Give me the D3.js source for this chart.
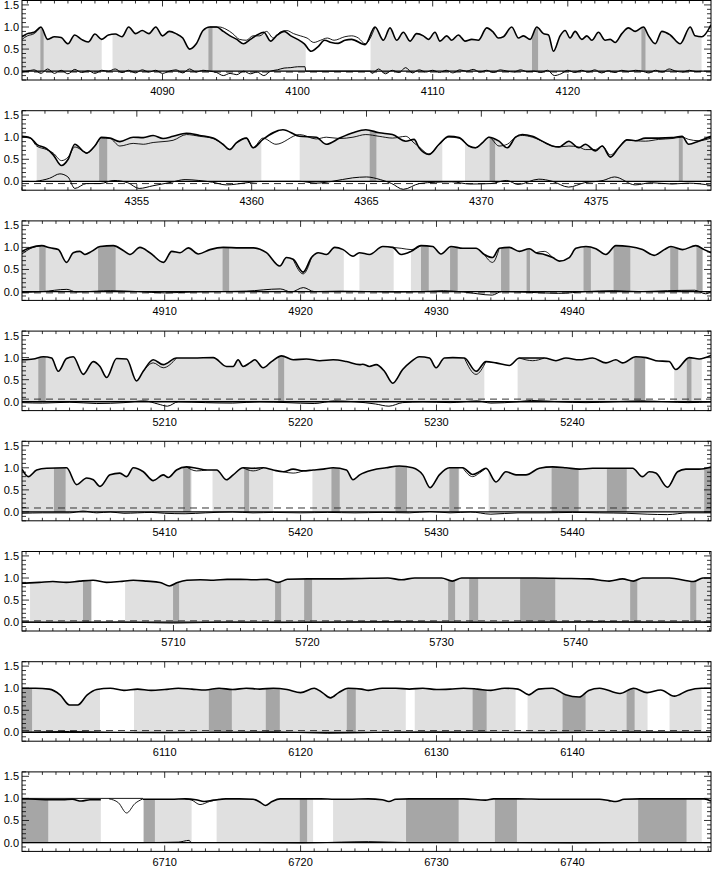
<!DOCTYPE html>
<html><head><meta charset="utf-8">
<script src="https://cdn.jsdelivr.net/npm/d3@7"></script>
<style>body{margin:0;background:#fff}svg{display:block}text{font-family:"Liberation Sans",Arial,sans-serif;font-size:11px;fill:#000}</style>
</head><body><svg id="c" width="713" height="869"></svg>
<script>
// ---------------- DATA ----------------
const yTickValues=[0,0.5,1.0,1.5];

const p1Range=[4079.6,4130.6];
const p1Ticks=[4090,4100,4110,4120];
const p1Main=[[4079.6,0.78],[4080,0.85],[4080.5,0.88],[4081,1.0],[4081.5,0.72],[4082,0.78],[4082.5,0.76],[4083,0.62],[4083.5,0.82],[4084,0.72],[4084.5,0.66],[4085,0.84],[4085.5,0.72],[4086,0.82],[4086.5,0.84],[4087,0.78],[4087.5,1.0],[4088,0.85],[4088.5,0.92],[4089,0.85],[4089.5,1.0],[4090,0.8],[4090.5,0.9],[4091,0.85],[4091.5,0.75],[4092,0.5],[4092.5,0.62],[4093,0.92],[4093.5,1.0],[4094,1.0],[4094.5,0.9],[4095,0.8],[4095.5,0.72],[4096,0.62],[4096.5,0.72],[4097,0.82],[4097.5,0.88],[4098,0.68],[4098.5,0.82],[4099,0.9],[4099.5,0.8],[4100,0.72],[4100.5,0.62],[4101,0.45],[4101.5,0.55],[4102,0.7],[4102.5,0.65],[4103,0.63],[4103.5,0.7],[4104,0.72],[4105,0.6],[4105.73,1.0],[4106.35,0.7],[4106.84,0.98],[4107.33,0.7],[4107.83,0.88],[4108.32,0.68],[4108.81,0.85],[4109.31,0.8],[4109.68,0.72],[4110.17,0.88],[4110.54,0.68],[4111.04,0.8],[4111.41,0.7],[4111.9,0.82],[4112.4,0.68],[4112.89,0.72],[4113.38,0.7],[4114.0,0.98],[4114.49,0.88],[4114.86,0.75],[4115.23,0.78],[4115.85,1.0],[4116.35,0.75],[4116.72,0.8],[4117.21,0.72],[4117.7,1.0],[4118.2,0.85],[4118.57,0.82],[4118.94,0.45],[4119.43,0.8],[4119.8,0.92],[4120.17,0.75],[4120.54,0.9],[4121.04,0.72],[4121.41,0.8],[4121.78,0.7],[4122.27,0.88],[4122.77,0.7],[4123.14,0.72],[4123.5,0.65],[4124.0,0.85],[4124.49,0.98],[4124.99,0.9],[4125.6,1.0],[4125.98,0.8],[4126.47,0.62],[4126.96,0.9],[4127.58,0.82],[4128.32,0.62],[4129.06,1.0],[4129.43,0.8],[4129.93,0.78],[4130.6,1.05]];
const p1Thin=[[4079.6,0.72],[4080,0.8],[4080.5,0.85],[4081,1.0],null,[4093.5,1.0],[4094.2,1.0],[4094.7,0.95],[4095.2,0.85],[4095.7,0.72],[4096.2,0.7],[4096.7,0.8],[4097.2,0.8],[4097.7,0.9],[4098.2,0.75],[4098.7,0.88],[4099.2,0.92],[4099.7,0.85],[4100.2,0.8],[4100.7,0.75],[4101.2,0.65],[4101.7,0.7],[4102.2,0.75],[4102.7,0.7],[4103.5,0.78],[4104,0.8],[4104.5,0.75],[4105,0.62],[4105.73,1.0]];
const p1Res=[[4079.6,-0.02],[4080,0.0],[4080.5,0.03],[4081,-0.05],[4081.5,0.05],[4082,-0.05],[4082.5,0.02],[4083,-0.06],[4083.5,0.04],[4084,-0.03],[4084.5,0.01],[4085,-0.05],[4085.5,0.02],[4086,0.0],[4086.5,0.05],[4087,-0.03],[4087.5,0.02],[4088,-0.04],[4088.5,0.03],[4089,-0.02],[4089.5,0.02],[4090,-0.05],[4090.5,0.0],[4091,0.03],[4091.5,-0.04],[4092,0.05],[4092.5,-0.02],[4093,0.02],[4093.5,0.0],[4094,-0.03],[4094.5,-0.1],[4095,-0.05],[4095.5,-0.08],[4096,0.0],[4096.5,-0.06],[4097,-0.02],[4097.5,-0.1],[4098,0.0],[4098.5,0.03],[4099,0.07],[4099.5,0.08],[4100,0.1],[4100.55,0.1],[4100.6,0.0],[4105.4,0.0],[4105.5,-0.05],[4106,0.05],[4106.5,-0.06],[4107,0.02],[4107.5,-0.03],[4108,0.08],[4108.5,-0.04],[4109,0.03],[4109.5,-0.02],[4110,0.02],[4110.5,-0.03],[4111,0.02],[4111.5,-0.04],[4112,0.03],[4112.5,0.0],[4113,0.04],[4113.5,-0.02],[4114,0.02],[4114.5,-0.03],[4115,0.03],[4115.5,0.0],[4116,-0.02],[4116.5,0.03],[4117,-0.01],[4117.5,0.0],[4118,-0.03],[4118.5,0.02],[4119,-0.1],[4119.5,-0.06],[4120,0.02],[4120.5,-0.03],[4121,0.02],[4121.5,-0.02],[4122,0.03],[4122.5,-0.04],[4123,0.01],[4123.5,-0.03],[4124,0.02],[4124.5,-0.01],[4125,0.02],[4125.5,0.0],[4126,-0.04],[4126.5,0.02],[4127,-0.02],[4127.5,0.05],[4128,0.0],[4128.5,-0.02],[4129,0.02],[4129.5,-0.01],[4129.9,0.0]];
const p1Light=[[4079.6,4085.5],[4086.3,4100.6],[4105.4,4129.9]];
const p1Dark=[[4080.96,4081.2],[4093.4,4093.7],[4117.35,4117.8],[4125.45,4125.75]];
const p1Dash=-0.02;

const p2Range=[4350,4380];
const p2Ticks=[4355,4360,4365,4370,4375];
const p2Main=[[4350.0,1.02],[4350.35,0.99],[4350.64,0.84],[4351.07,0.74],[4351.36,0.6],[4351.72,0.36],[4352.01,0.5],[4352.3,0.84],[4352.67,0.68],[4352.81,0.64],[4353.17,0.8],[4353.46,1.0],[4353.83,0.98],[4354.26,0.9],[4354.84,1.0],[4355.28,0.99],[4355.71,1.04],[4356.14,0.97],[4356.58,1.02],[4357.16,1.09],[4357.74,1.04],[4358.32,0.98],[4358.75,0.84],[4359.04,0.72],[4359.33,0.87],[4359.77,0.98],[4360.06,0.76],[4360.49,0.95],[4361.36,1.17],[4362.09,1.02],[4362.81,1.0],[4363.25,0.84],[4363.83,0.98],[4364.41,1.1],[4364.97,1.17],[4365.55,1.1],[4366.13,1.06],[4366.71,0.91],[4367.07,0.95],[4367.29,0.76],[4367.72,0.61],[4368.16,0.84],[4368.59,1.02],[4369.03,0.99],[4369.46,0.8],[4369.75,0.76],[4370.04,0.87],[4370.33,1.0],[4370.77,0.91],[4371.13,0.76],[4371.49,1.0],[4371.78,1.06],[4372.22,1.02],[4372.8,0.87],[4373.09,0.8],[4373.38,0.78],[4373.81,0.91],[4374.24,0.76],[4374.53,0.84],[4374.97,0.69],[4375.26,0.8],[4375.62,0.55],[4375.98,0.76],[4376.35,0.94],[4376.71,0.92],[4377.14,0.98],[4377.72,0.98],[4378.3,0.99],[4378.74,1.02],[4379.03,0.84],[4379.46,0.91],[4380,1.02]];
const p2Thin=[[4350.0,1.0],[4350.35,0.98],[4350.64,0.8],[4351.07,0.72],[4351.36,0.64],[4351.72,0.47],[4352.01,0.55],[4352.3,0.78],[4352.67,0.68],[4352.81,0.64],[4353.17,0.8],[4353.46,0.98],[4353.83,0.97],[4354.26,0.8],[4354.84,0.86],[4355.28,0.84],[4355.71,0.88],[4356.14,0.9],[4356.58,0.93],[4357.16,1.06],[4357.74,1.02],[4358.32,0.97],[4358.75,0.84],[4359.04,0.72],[4359.33,0.87],[4359.77,0.98],[4360.06,0.76],[4360.49,0.98],[4361.06,0.84],[4362.09,1.06],[4362.81,0.96],[4363.25,1.0],[4363.83,0.97],[4364.41,1.0],[4364.97,1.06],[4365.55,1.02],[4366.13,0.98],[4366.71,1.02],[4367.07,0.87],[4367.29,0.78],[4367.72,0.62],[4368.16,0.84],[4368.59,1.0],[4369.03,0.98],[4369.46,0.8],[4369.75,0.76],[4370.04,0.87],[4370.33,1.0],[4370.77,0.8],[4371.13,0.84],[4371.49,1.0],[4371.78,1.04],[4372.22,1.0],[4372.8,0.87],[4373.09,0.8],[4373.38,0.78],[4373.81,0.8],[4374.24,0.78],[4374.53,0.72],[4374.97,0.72],[4375.26,0.8],[4375.62,0.6],[4375.98,0.76],[4376.35,0.94],[4376.71,0.92],[4377.14,0.91],[4377.72,0.95],[4378.3,0.97],[4378.74,1.0],[4379.03,0.95],[4379.46,0.92],[4380,0.98]];
const p2Res=[[4350.6,0.0],[4351.2,0.07],[4351.65,0.17],[4352.0,0.1],[4352.3,-0.16],[4352.8,-0.05],[4353.4,-0.05],[4354.0,0.02],[4354.6,-0.03],[4355.1,-0.16],[4355.7,-0.1],[4356.5,-0.02],[4357.1,0.04],[4357.7,0.02],[4358.3,-0.02],[4358.9,-0.08],[4359.8,-0.03],[4360.4,0.0],[4362.1,0.0],[4362.8,-0.04],[4363.5,0.0],[4364.4,0.08],[4365.0,0.1],[4365.6,0.04],[4366.1,-0.05],[4366.6,-0.18],[4367.3,-0.05],[4368.0,-0.02],[4368.7,-0.01],[4369.5,-0.06],[4370.4,-0.05],[4371.1,0.02],[4371.6,-0.07],[4372.5,0.05],[4373.1,0.0],[4373.8,-0.13],[4374.5,-0.03],[4375.3,0.02],[4375.8,0.1],[4376.7,-0.08],[4377.4,-0.03],[4378.3,-0.06],[4379.0,-0.04],[4380,-0.09]];
const p2Light=[[4350.64,4360.42],[4362.09,4368.3],[4369.29,4380]];
const p2Dark=[[4353.36,4353.71],[4365.14,4365.43],[4370.36,4370.6],[4378.6,4378.77]];
const p2Dash=-0.05;

const p3Range=[4899.5,4950.2];
const p3Ticks=[4910,4920,4930,4940];
const p3Main=[[4899.5,0.91],[4900.09,0.99],[4900.95,1.04],[4901.56,0.99],[4902.17,0.95],[4902.78,0.66],[4903.27,0.88],[4903.76,0.91],[4904.13,0.84],[4904.62,0.91],[4905.24,1.02],[4906.22,1.04],[4906.95,0.93],[4907.44,0.84],[4908.18,1.0],[4908.91,0.88],[4909.91,0.66],[4910.52,0.91],[4911.13,0.88],[4911.74,0.99],[4912.47,0.85],[4913.33,0.95],[4914.31,1.0],[4915.53,0.99],[4916.51,0.99],[4917.49,0.88],[4918.47,0.58],[4918.96,0.77],[4919.45,0.73],[4920.19,0.44],[4920.8,0.77],[4921.29,0.88],[4921.9,0.84],[4922.51,1.0],[4923.13,0.95],[4923.86,0.8],[4924.33,0.88],[4925.07,0.84],[4926.05,1.02],[4926.78,1.0],[4927.4,0.84],[4928.13,0.91],[4928.86,1.04],[4929.72,1.02],[4930.33,0.85],[4931.07,1.02],[4931.93,0.98],[4932.91,0.98],[4933.52,0.84],[4934.13,0.77],[4934.62,0.98],[4935.36,1.0],[4936.1,0.91],[4936.83,0.97],[4937.32,0.88],[4937.93,0.84],[4938.55,0.77],[4939.04,0.69],[4939.77,0.77],[4940.26,0.98],[4941.0,1.02],[4941.73,0.97],[4942.47,0.84],[4943.2,1.04],[4944.18,1.02],[4945.16,0.95],[4946.02,0.82],[4946.76,0.95],[4947.25,1.02],[4948.1,0.95],[4949.08,1.04],[4949.7,0.95],[4950.2,0.88]];
const p3Thin=[[4899.5,0.85],[4900.09,0.97],[4900.95,1.04],null,[4919.45,0.73],[4920.19,0.4],[4920.8,0.77],null,[4926.78,1.0],[4927.4,0.98],[4928.13,0.95],[4928.86,1.04],null,[4933.52,0.84],[4934.13,0.66],[4934.62,0.98],null,[4937.32,0.88],[4937.93,0.91],[4938.55,0.77]];
const p3Res=[[4899.5,-0.02],[4901,0.0],[4902.8,0.05],[4903.5,-0.01],[4905,0.01],[4906,0.02],[4908,0.0],[4910,-0.03],[4912,-0.01],[4914,0.0],[4916,0.01],[4918.5,0.06],[4919.3,-0.01],[4920.2,0.09],[4921,0.0],[4923,0.01],[4925,0.0],[4927,-0.01],[4929,0.0],[4930.5,0.02],[4932,-0.01],[4934.1,-0.08],[4934.8,0.0],[4937,-0.02],[4939,-0.04],[4941,0.0],[4943,0.02],[4945,0.0],[4947,0.02],[4949,0.03],[4949.8,-0.05],[4950.2,0.0]];
const p3Light=[[4899.5,4923.18],[4924.33,4926.85],[4928.12,4949.6]];
const p3Dark=[[4900.77,4901.24],[4905.1,4906.39],[4914.26,4914.74],[4928.86,4929.43],[4931.0,4931.56],[4934.75,4935.37],[4936.63,4936.88],[4940.82,4941.36],[4943.03,4944.26],[4947.2,4947.79],[4949.13,4949.57]];
const p3Dash=-0.03;

const p4Range=[5199.5,5250.2];
const p4Ticks=[5210,5220,5230,5240];
const p4Main=[[5199.5,0.95],[5200.33,0.97],[5201.07,1.02],[5201.68,0.99],[5202.17,0.69],[5202.78,0.98],[5203.27,1.02],[5204.01,0.62],[5204.74,0.91],[5205.24,0.8],[5205.73,0.55],[5206.46,0.98],[5207.2,0.97],[5207.93,0.47],[5208.42,0.69],[5209.16,0.95],[5209.89,0.84],[5210.87,0.99],[5212.1,0.99],[5213.57,1.0],[5214.55,0.8],[5215.04,0.8],[5215.4,0.95],[5215.77,0.8],[5216.26,0.88],[5216.63,0.95],[5217.24,0.77],[5217.86,0.91],[5218.6,1.04],[5219.45,0.95],[5220.43,0.97],[5221.41,0.93],[5222.39,0.95],[5223.37,0.91],[5224.35,0.84],[5224.57,0.85],[5225.07,0.8],[5225.56,0.84],[5226.17,0.69],[5226.78,0.42],[5227.51,0.73],[5228.13,0.91],[5228.74,1.02],[5229.48,0.99],[5229.97,0.77],[5230.58,0.99],[5231.2,1.0],[5232.05,0.99],[5232.91,0.69],[5233.64,0.91],[5234.38,0.88],[5235.36,0.82],[5236.1,0.99],[5237.08,0.99],[5237.93,0.99],[5238.79,0.93],[5239.53,0.99],[5240.5,0.95],[5241.49,0.99],[5242.47,0.88],[5243.2,0.95],[5243.69,0.88],[5244.67,1.02],[5245.41,1.0],[5246.14,0.93],[5247.12,0.91],[5247.61,0.73],[5248.6,1.0],[5249.33,0.97],[5250.2,1.05]];
const p4Thin=[[5208.42,0.69],[5209.16,0.88],[5209.89,0.77],[5210.87,0.99],null,[5232.05,0.99],[5232.91,0.62],[5233.64,0.91],null,[5236.1,0.99],[5237.08,0.93],[5237.93,0.99]];
const p4Res=[[5199.5,-0.02],[5201,-0.03],[5203,-0.01],[5205,-0.04],[5207,-0.02],[5208.5,0.02],[5209.5,-0.05],[5210.2,-0.1],[5211,0.0],[5213,-0.02],[5215,-0.03],[5217,0.0],[5219,-0.02],[5221,-0.04],[5222.5,0.02],[5224,0.0],[5225.5,-0.05],[5226.5,-0.1],[5227.5,-0.02],[5229,0.0],[5231,-0.02],[5233,0.02],[5234,-0.03],[5236,0.0],[5237,0.03],[5239,0.0],[5241,-0.02],[5243,0.0],[5245,0.02],[5247,0.0],[5248.5,-0.02],[5250.2,0.0]];
const p4Light=[[5199.5,5233.52],[5235.97,5244.55],[5247.49,5249.52]];
const p4Dark=[[5200.7,5201.24],[5218.35,5218.79],[5244.55,5245.36],[5248.42,5248.76]];
const p4Dash=0.06;

const p5Range=[5399.5,5450.2];
const p5Ticks=[5410,5420,5430,5440];
const p5Main=[[5399.5,0.97],[5399.97,0.8],[5400.58,0.95],[5401.32,0.99],[5402.78,1.0],[5403.52,0.62],[5404.26,0.77],[5404.75,0.73],[5405.24,0.58],[5405.98,0.84],[5406.7,0.88],[5407.2,0.8],[5407.69,1.0],[5408.43,0.91],[5409.16,0.71],[5409.89,0.84],[5410.26,0.78],[5410.87,0.95],[5411.6,1.02],[5412.34,0.99],[5413.08,0.95],[5413.82,0.95],[5414.55,0.73],[5415.04,0.84],[5415.77,1.0],[5416.51,0.99],[5417.25,1.0],[5417.98,0.95],[5418.72,0.91],[5419.45,0.97],[5420.19,0.93],[5420.92,0.95],[5421.66,0.97],[5422.39,1.0],[5423.37,0.95],[5423.86,0.73],[5424.35,0.84],[5425.31,0.95],[5426.29,1.0],[5427.27,1.04],[5428.25,1.0],[5428.99,0.84],[5429.53,0.55],[5430.21,0.84],[5430.95,1.0],[5431.93,1.0],[5432.66,0.85],[5433.15,0.91],[5433.64,0.99],[5434.38,0.68],[5435.11,0.91],[5435.85,0.84],[5436.58,0.84],[5437.57,0.99],[5438.55,1.02],[5439.53,1.0],[5440.5,0.97],[5441.49,0.99],[5442.47,0.99],[5443.45,0.99],[5444.43,0.99],[5445.16,0.8],[5445.65,0.91],[5446.14,0.88],[5447.0,0.56],[5447.74,0.91],[5448.35,0.97],[5449.33,0.97],[5450.2,1.02]];
const p5Thin=[[5411.6,1.02],[5412.34,0.93],[5413.08,0.95],null,[5415.77,1.0],[5416.51,0.93],[5417.25,1.0],null,[5418.72,0.91],[5419.45,0.88],[5420.19,0.93],null,[5431.93,1.0],[5432.66,0.8],[5433.15,0.88],[5433.64,0.99]];
const p5Res=[[5399.5,-0.03],[5401,-0.02],[5403,-0.02],[5404,0.02],[5405,-0.02],[5406,0.0],[5407,-0.03],[5408,-0.02],[5409,-0.01],[5410,-0.03],[5411.5,-0.04],[5413,-0.02],[5415,0.0],[5416.5,-0.02],[5418,-0.01],[5420,-0.02],[5422,-0.01],[5424,-0.02],[5426,-0.01],[5428,-0.02],[5429.5,0.01],[5431,-0.02],[5432.5,0.0],[5434,-0.05],[5436,-0.02],[5438,-0.02],[5440,-0.01],[5442,-0.02],[5444,-0.03],[5445.5,-0.05],[5447,-0.06],[5448.5,-0.02],[5450.2,-0.02]];
const p5Light=[[5399.5,5411.98],[5413.52,5417.98],[5420.87,5431.68],[5433.84,5450.2]];
const p5Dark=[[5401.85,5402.71],[5411.36,5411.9],[5415.85,5416.21],[5422.27,5422.88],[5426.98,5427.83],[5430.95,5431.63],[5438.47,5440.46],[5442.54,5444.0],[5449.7,5450.2]];
const p5Dash=0.09;

const p6Range=[5698.7,5750.1];
const p6Ticks=[5710,5720,5730,5740];
const p6Main=[[5698.7,0.88],[5700,0.9],[5701,0.92],[5702,0.9],[5703,0.93],[5704,0.95],[5705,0.9],[5706,0.92],[5707,0.95],[5708,0.93],[5709,0.9],[5709.7,0.82],[5710.3,0.9],[5711,0.95],[5712,0.96],[5713,0.95],[5714,0.97],[5715,0.97],[5716,0.96],[5717,0.97],[5717.8,0.9],[5718.5,0.97],[5720,0.98],[5722,0.98],[5724,0.99],[5726,1.0],[5727,0.96],[5728,1.0],[5730,1.0],[5730.8,0.93],[5731.5,1.0],[5733,1.0],[5735,1.0],[5737,1.0],[5739,0.99],[5741,0.98],[5742.5,0.93],[5743.5,0.98],[5744.3,0.93],[5745,1.0],[5747,1.0],[5748.8,0.92],[5749.5,1.0],[5750.1,1.0]];
const p6Thin=[];
const p6Res=[[5698.7,0.0],[5702,-0.01],[5706,0.0],[5710,-0.02],[5714,0.0],[5718,-0.01],[5722,0.0],[5726,0.01],[5730,0.0],[5734,-0.01],[5738,0.0],[5742,0.01],[5746,0.0],[5750.1,0.0]];
const p6Light=[[5699.3,5703.92],[5706.39,5750.1]];
const p6Dark=[[5703.25,5703.85],[5709.97,5710.42],[5717.58,5718.03],[5719.75,5720.34],[5730.49,5731.01],[5732.06,5732.73],[5735.86,5738.48],[5744.07,5744.6],[5748.55,5749.0]];
const p6Dash=0.03;

const p7Range=[6099.5,6150.2];
const p7Ticks=[6110,6120,6130,6140];
const p7Main=[[6099.5,1.0],[6100.5,1.0],[6101.5,0.98],[6102.3,0.85],[6103.0,0.62],[6103.6,0.62],[6104.3,0.85],[6105,0.97],[6106,1.0],[6107,0.95],[6108,0.98],[6109,0.95],[6110,0.97],[6111,1.0],[6112,0.98],[6113,0.96],[6114,1.0],[6115,0.97],[6116,1.0],[6117,0.98],[6118,1.0],[6119,0.97],[6120,0.9],[6121,1.0],[6121.6,0.9],[6122.2,0.78],[6122.8,0.9],[6123.5,1.0],[6124.5,0.98],[6125,0.95],[6126,1.0],[6127,1.0],[6128,0.98],[6129,1.0],[6130,0.97],[6131,0.98],[6132,1.0],[6133,0.98],[6134,0.95],[6135,1.0],[6136,0.98],[6136.8,0.85],[6137.5,0.98],[6138.5,1.0],[6139.5,0.85],[6140.5,0.8],[6141.2,0.95],[6142,1.0],[6143.5,0.88],[6144.5,1.0],[6145.5,0.9],[6146.5,0.96],[6147.5,0.82],[6148.5,0.95],[6149.5,1.0],[6150.2,1.0]];
const p7Thin=[];
const p7Res=[[6099.5,0.0],[6103,0.02],[6106,0.0],[6110,-0.01],[6114,0.0],[6118,0.01],[6122,-0.02],[6126,0.0],[6130,0.01],[6134,0.0],[6138,-0.01],[6142,0.0],[6146,0.01],[6150.2,0.0]];
const p7Light=[[6099.5,6105.24],[6107.74,6127.74],[6128.4,6135.82],[6136.7,6145.53],[6147.15,6149.5]];
const p7Dark=[[6099.5,6100.24],[6113.25,6114.94],[6117.44,6118.47],[6123.4,6124.06],[6132.66,6133.69],[6139.28,6140.97],[6143.99,6144.58]];
const p7Dash=0.04;

const p8Range=[6699.5,6750.2];
const p8Ticks=[6710,6720,6730,6740];
const p8Main=[[6699.5,0.99],[6700.5,0.98],[6701.5,0.97],[6702.5,0.97],[6703.2,0.98],[6703.85,0.94],[6704.5,0.97],[6705.3,0.97],null,[6708.4,0.98],[6709.5,0.98],[6710.5,0.98],[6711.5,0.99],[6712.3,0.97],[6712.9,0.93],[6713.6,0.96],[6714.5,0.99],[6715.5,0.99],[6716.5,0.98],[6717.0,0.92],[6717.4,0.84],[6717.9,0.93],[6718.5,0.99],[6720,0.99],[6721.5,0.99],[6722.5,0.98],[6723.5,0.98],[6725,0.99],[6726.0,0.97],[6726.5,0.93],[6727.0,0.98],[6728,0.99],[6730,0.99],[6732,0.99],[6733.6,0.96],[6734.2,0.99],[6736,0.99],[6738,0.98],[6740,0.98],[6742,0.98],[6742.7,0.95],[6743.2,0.93],[6743.8,0.98],[6745,0.99],[6747,0.99],[6749,0.99],[6749.7,0.99],[6750.2,0.94]];
const p8Thin=[[6699.5,1.0],[6708.4,1.0],null,[6705.9,0.99],[6706.6,0.9],[6707.2,0.67],[6707.8,0.88],[6708.4,0.99],null,[6711.5,0.99],[6712.0,0.96],[6712.6,0.86],[6713.3,0.93],[6714.0,0.98]];
const p8Res=[[6699.5,0.0],[6705.3,0.0],[6708.4,0.0],[6711.0,0.01],[6711.8,0.05],[6711.95,0.0],[6716,0.0],[6720,-0.01],[6723,0.01],[6725,0.02],[6728,0.0],[6735,0.0],[6740,-0.01],[6745,0.0],[6750.2,0.0]];
const p8Light=[[6699.5,6705.36],[6708.37,6711.98],[6713.82,6720.92],[6722.39,6749.52]];
const p8Dark=[[6699.5,6701.43],[6708.47,6709.28],[6719.94,6720.48],[6727.76,6731.63],[6734.3,6735.92],[6744.84,6748.4]];
const p8Dash=null;

// ------------- assemble -------------
const panels=[
 {range:p1Range,ticks:p1Ticks,main:p1Main,thin:p1Thin,res:p1Res,light:p1Light,dark:p1Dark,dash:p1Dash},
 {range:p2Range,ticks:p2Ticks,main:p2Main,thin:p2Thin,res:p2Res,light:p2Light,dark:p2Dark,dash:p2Dash},
 {range:p3Range,ticks:p3Ticks,main:p3Main,thin:p3Thin,res:p3Res,light:p3Light,dark:p3Dark,dash:p3Dash},
 {range:p4Range,ticks:p4Ticks,main:p4Main,thin:p4Thin,res:p4Res,light:p4Light,dark:p4Dark,dash:p4Dash},
 {range:p5Range,ticks:p5Ticks,main:p5Main,thin:p5Thin,res:p5Res,light:p5Light,dark:p5Dark,dash:p5Dash},
 {range:p6Range,ticks:p6Ticks,main:p6Main,thin:p6Thin,res:p6Res,light:p6Light,dark:p6Dark,dash:p6Dash},
 {range:p7Range,ticks:p7Ticks,main:p7Main,thin:p7Thin,res:p7Res,light:p7Light,dark:p7Dark,dash:p7Dash},
 {range:p8Range,ticks:p8Ticks,main:p8Main,thin:p8Thin,res:p8Res,light:p8Light,dark:p8Dark,dash:p8Dash}
];

// ------------- drawing -------------
const svg=d3.select("#c");
const L=22,R=711,PH=79.5,PITCH=110.2,TOP0=0.5;
const LIGHT="#e0e0e0",DARK="#a6a6a6";

panels.forEach((p,i)=>{
  const top=TOP0+PITCH*i, bot=top+PH;
  const x=d3.scaleLinear().domain(p.range).range([L,R]);
  const y=d3.scaleLinear().domain([-0.2,1.6]).range([bot,top]);
  const g=svg.append("g");
  const defs=svg.append("defs");
  defs.append("clipPath").attr("id","pc"+i).append("rect").attr("x",L).attr("y",top).attr("width",R-L).attr("height",PH);
  const areaGen=d3.area().defined(d=>d!=null).x(d=>x(d[0])).y0(y(0)).y1(d=>y(d[1])).curve(d3.curveMonotoneX);
  defs.append("clipPath").attr("id","fc"+i).append("path").attr("d",areaGen(p.main));
  const plot=g.append("g").attr("clip-path","url(#pc"+i+")");
  const fills=plot.append("g").attr("clip-path","url(#fc"+i+")");
  fills.selectAll("rect.l").data(p.light).join("rect").attr("class","l")
    .attr("x",d=>x(d[0])).attr("width",d=>Math.max(0,x(d[1])-x(d[0]))).attr("y",top).attr("height",y(0)-top).attr("fill",LIGHT);
  fills.selectAll("rect.d").data(p.dark).join("rect").attr("class","d")
    .attr("x",d=>x(d[0])).attr("width",d=>Math.max(0,x(d[1])-x(d[0]))).attr("y",top).attr("height",y(0)-top).attr("fill",DARK);
  if(p.dash!=null){
    plot.append("line").attr("x1",L).attr("x2",R).attr("y1",y(p.dash)).attr("y2",y(p.dash))
      .attr("stroke","#333").attr("stroke-width",1).attr("stroke-dasharray","7,5");
  }
  plot.append("line").attr("x1",L).attr("x2",R).attr("y1",y(0)).attr("y2",y(0)).attr("stroke","#000").attr("stroke-width",1.3);
  const lineGen=d3.line().defined(d=>d!=null).x(d=>x(d[0])).y(d=>y(d[1])).curve(d3.curveMonotoneX);
  plot.append("path").attr("d",lineGen(p.res)).attr("fill","none").attr("stroke","#000").attr("stroke-width",1);
  if(p.thin.length) plot.append("path").attr("d",lineGen(p.thin)).attr("fill","none").attr("stroke","#000").attr("stroke-width",0.9);
  plot.append("path").attr("d",lineGen(p.main)).attr("fill","none").attr("stroke","#000").attr("stroke-width",1.6);

  g.append("rect").attr("x",L).attr("y",top).attr("width",R-L).attr("height",PH).attr("fill","none").attr("stroke","#000").attr("stroke-width",1);
  const minor=d3.range(Math.ceil(p.range[0]),p.range[1],1);
  const tk=g.append("g").attr("stroke","#000").attr("stroke-width",0.8);
  minor.forEach(v=>{
    const isMaj=p.ticks.includes(v);
    const len=isMaj?6:3;
    tk.append("line").attr("x1",x(v)).attr("x2",x(v)).attr("y1",bot).attr("y2",bot-len);
    tk.append("line").attr("x1",x(v)).attr("x2",x(v)).attr("y1",top).attr("y2",top+len);
  });
  d3.range(-0.2,1.61,0.1).forEach(v=>{
    const vv=Math.round(v*10)/10;
    const isMaj=yTickValues.includes(vv);
    const len=isMaj?7:4;
    tk.append("line").attr("x1",L).attr("x2",L+len).attr("y1",y(vv)).attr("y2",y(vv));
    tk.append("line").attr("x1",R).attr("x2",R-len).attr("y1",y(vv)).attr("y2",y(vv));
  });
  g.selectAll("text.xl").data(p.ticks).join("text").attr("class","xl")
    .attr("x",d=>x(d)).attr("y",bot+15).attr("text-anchor","middle").text(d=>d);
  g.selectAll("text.yl").data(yTickValues).join("text").attr("class","yl")
    .attr("x",19).attr("y",d=>y(d)+4).attr("text-anchor","end").text(d=>d3.format(".1f")(d));
});
</script></body></html>
